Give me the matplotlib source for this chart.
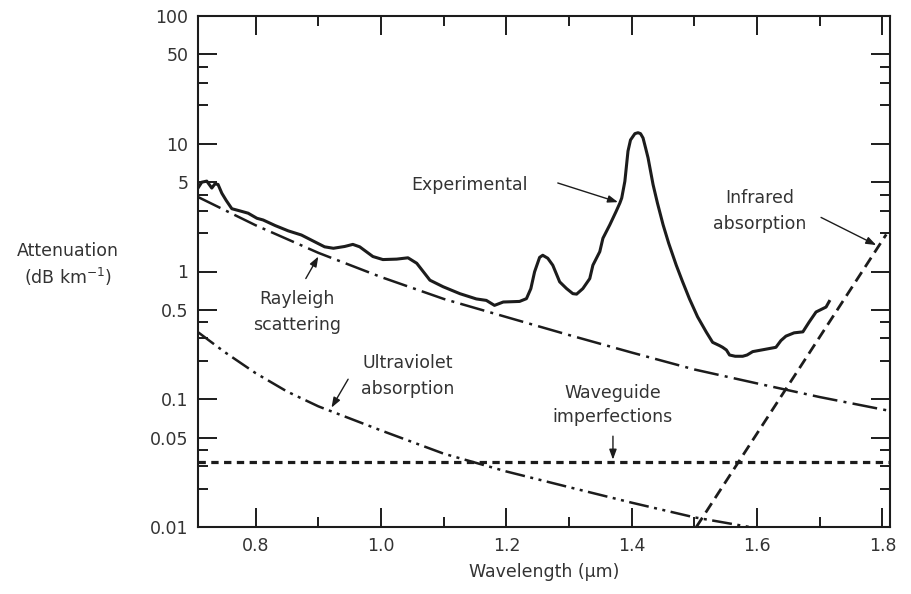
import numpy as np
import matplotlib
matplotlib.use('Agg')
import matplotlib.pyplot as plt
from matplotlib.ticker import FixedLocator, NullFormatter

# values (wavelength in um, attenuation in dB/km)
exp_wl = [0.708, 0.714, 0.722, 0.730, 0.735, 0.740, 0.746, 0.753, 0.762, 0.775,
          0.788, 0.802, 0.812, 0.831, 0.852, 0.873, 0.894, 0.910, 0.924, 0.942,
          0.955, 0.966, 0.987, 1.003, 1.025, 1.043, 1.057, 1.078, 1.099, 1.126,
          1.152, 1.168, 1.181, 1.195, 1.221, 1.232, 1.239, 1.245, 1.253, 1.258,
          1.266, 1.274, 1.285, 1.296, 1.306, 1.312, 1.322, 1.333, 1.338, 1.349,
          1.354, 1.365, 1.375, 1.381, 1.384, 1.389, 1.394, 1.398, 1.405, 1.410,
          1.414, 1.418, 1.422, 1.426, 1.434, 1.441, 1.450, 1.459, 1.471, 1.481,
          1.492, 1.505, 1.519, 1.529, 1.540, 1.545, 1.551, 1.556, 1.565, 1.577,
          1.584, 1.593, 1.611, 1.630, 1.638, 1.646, 1.659, 1.673, 1.683, 1.694,
          1.710, 1.715]
exp_att = [4.5, 5.0, 5.1, 4.5, 4.85, 4.8, 4.1, 3.6, 3.1, 2.98,
           2.86, 2.61, 2.53, 2.29, 2.08, 1.93, 1.71, 1.56, 1.52, 1.57,
           1.63, 1.56, 1.31, 1.24, 1.25, 1.28, 1.16, 0.855, 0.76, 0.67,
           0.61, 0.594, 0.543, 0.577, 0.583, 0.613, 0.734, 0.995, 1.29, 1.34,
           1.27, 1.12, 0.83, 0.735, 0.671, 0.665, 0.735, 0.88, 1.12, 1.43,
           1.82, 2.32, 2.95, 3.43, 3.76, 5.08, 8.76, 10.7, 12.0, 12.2,
           12.0, 11.1, 9.3, 7.76, 4.79, 3.43, 2.32, 1.66, 1.12, 0.834,
           0.612, 0.442, 0.335, 0.279, 0.263, 0.255, 0.243, 0.222, 0.217, 0.217,
           0.222, 0.236, 0.245, 0.255, 0.288, 0.312, 0.331, 0.337, 0.402, 0.482,
           0.527, 0.583]

ray_wl = [0.708, 0.8, 0.9, 1.0, 1.1, 1.2, 1.3, 1.4, 1.5, 1.6, 1.7, 1.812]
ray_att = [3.83, 2.3, 1.4, 0.905, 0.61, 0.44, 0.318, 0.232, 0.171, 0.133, 0.104, 0.081]

uv_wl = [0.708, 0.75, 0.8, 0.85, 0.9, 1.0, 1.1, 1.2, 1.3, 1.4, 1.5, 1.588]
uv_att = [0.335, 0.235, 0.16, 0.115, 0.088, 0.057, 0.0375, 0.0272, 0.0205, 0.0155, 0.0119, 0.01]

ir_wl = [1.503, 1.806]
ir_att = [0.01, 1.95]

wg_wl = [0.708, 1.812]
wg_att = [0.032, 0.032]

xticks = [0.8, 1.0, 1.2, 1.4, 1.6, 1.8]
xticklabels = ['0.8', '1.0', '1.2', '1.4', '1.6', '1.8']
xminor = [0.9, 1.1, 1.3, 1.5, 1.7]
yticks = [0.01, 0.05, 0.1, 0.5, 1, 5, 10, 50, 100]
yticklabels = ['0.01', '0.05', '0.1', '0.5', '1', '5', '10', '50', '100']
yminor = [0.02, 0.03, 0.04, 0.2, 0.3, 0.4, 2, 3, 4, 20, 30, 40]

lc = '#1c1c1c'
tc = '#333333'
fs = 12.5

fig = plt.figure(figsize=(9.11, 5.94), dpi=100)
ax = fig.add_axes([198/911, 1-527/594, 692/911, 511/594])

ax.plot(exp_wl, exp_att, color=lc, lw=2.2, solid_joinstyle='round')
ax.plot(ray_wl, ray_att, color=lc, lw=1.8, linestyle=(0, (10, 2.5, 1.2, 2.5)))
ax.plot(uv_wl, uv_att, color=lc, lw=1.8, linestyle=(0, (8, 2.2, 1.2, 2.2, 1.2, 2.2)))
ax.plot(ir_wl, ir_att, color=lc, lw=2.0, linestyle=(0, (4, 2.2)))
ax.plot(wg_wl, wg_att, color=lc, lw=2.3, linestyle=(0, (2.3, 1.7)))

ax.set_yscale('log')
ax.set_xlim(0.708, 1.812)
ax.set_ylim(0.01, 100)

ax.xaxis.set_major_locator(FixedLocator(xticks))
ax.set_xticklabels(xticklabels)
ax.xaxis.set_minor_locator(FixedLocator(xminor))
ax.yaxis.set_major_locator(FixedLocator(yticks))
ax.set_yticklabels(yticklabels)
ax.yaxis.set_minor_locator(FixedLocator(yminor))
ax.yaxis.set_minor_formatter(NullFormatter())

ax.tick_params(which='both', direction='in', top=True, right=True, color=lc,
               width=1.4, labelsize=fs, labelcolor=tc, pad=7)
ax.tick_params(which='major', length=13.5)
ax.tick_params(which='minor', length=7)
for s in ax.spines.values():
    s.set_linewidth(1.5)
    s.set_color(lc)

ax.set_xlabel('Wavelength (\u03bcm)', fontsize=fs, color=tc, labelpad=6)
fig.text(68/911, 1-265/594, 'Attenuation\n(dB km$^{-1}$)', ha='center', va='center',
         fontsize=fs, color=tc, linespacing=1.35)

arrow = dict(arrowstyle='-|>,head_length=0.6,head_width=0.22', color=lc, lw=1.0,
             shrinkA=0, shrinkB=0)

ax.text(1.141, 4.75, 'Experimental', ha='center', va='center', fontsize=fs, color=tc)
ax.annotate('', xy=(1.378, 3.49), xytext=(1.282, 4.93), arrowprops=arrow)

ax.text(1.604, 2.97, 'Infrared\nabsorption', ha='center', va='center', fontsize=fs,
        color=tc, linespacing=1.55)
ax.annotate('', xy=(1.790, 1.61), xytext=(1.702, 2.65), arrowprops=arrow)

ax.text(0.866, 0.484, 'Rayleigh\nscattering', ha='center', va='center', fontsize=fs,
        color=tc, linespacing=1.55)
ax.annotate('', xy=(0.900, 1.31), xytext=(0.880, 0.881), arrowprops=arrow)

ax.text(1.042, 0.152, 'Ultraviolet\nabsorption', ha='center', va='center', fontsize=fs,
        color=tc, linespacing=1.55)
ax.annotate('', xy=(0.921, 0.086), xytext=(0.9475, 0.1435), arrowprops=arrow)

ax.text(1.369, 0.0897, 'Waveguide\nimperfections', ha='center', va='center', fontsize=fs,
        color=tc, linespacing=1.45)
ax.annotate('', xy=(1.370, 0.0337), xytext=(1.370, 0.0514), arrowprops=arrow)

fig.savefig('out.png', dpi=100)
